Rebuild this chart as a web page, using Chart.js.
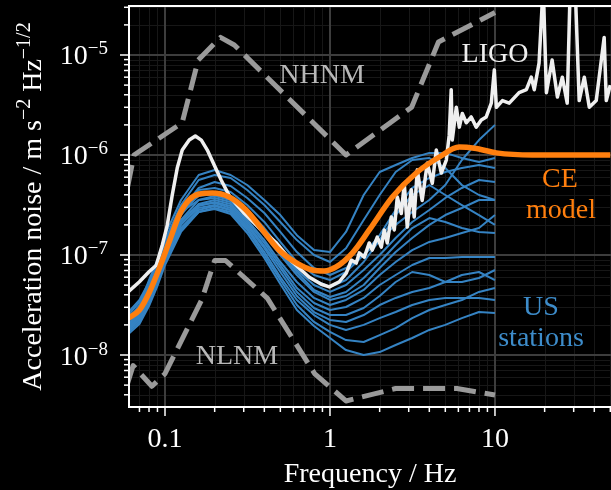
<!DOCTYPE html>
<html>
<head>
<meta charset="utf-8">
<script src="https://cdn.jsdelivr.net/npm/chart.js@4.4.1/dist/chart.umd.min.js"></script>
<style>
  html, body { margin: 0; padding: 0; background: #000; }
  #c { display: block; }
</style>
</head>
<body>
<canvas id="c" width="611" height="490"></canvas>
<script>
// ---------- axis ranges ----------
const xMin = 0.0605, xMax = 50.5;
const yMin = 3.02e-9, yMax = 3.09e-5;
const xTickValues = [0.1, 1, 10];
const xTickLabels = ['0.1', '1', '10'];
const yTickValues = [1e-8, 1e-7, 1e-6, 1e-5];
const yTickExponents = ['\u22128', '\u22127', '\u22126', '\u22125'];

// ---------- NHNM / NLNM ----------
const nhnmFreq = [0.05, 0.0649, 0.127, 0.159, 0.217, 0.263, 1.25, 3.125, 4.545, 10];
const nhnmVal  = [1.19e-7, 1.0e-6, 2.1e-6, 8.9e-6, 1.5e-5, 1.26e-5, 1.0e-6, 3.0e-6, 1.35e-5, 2.66e-5];
const nlnmFreq = [0.0457, 0.0641, 0.0833, 0.1, 0.1667, 0.2, 0.2326, 0.4167, 0.806, 1.25, 2.5, 5.88, 10];
const nlnmVal  = [1.33e-9, 7.83e-9, 4.87e-9, 6.5e-9, 3.55e-8, 8.81e-8, 8.81e-8, 3.7e-8, 6.53e-9, 3.47e-9, 4.62e-9, 4.62e-9, 3.98e-9];

// ---------- CE model ----------
const ceFreq = [0.06, 0.07, 0.08, 0.093, 0.107, 0.122, 0.14, 0.161, 0.194, 0.245, 0.31, 0.39, 0.49, 0.625, 0.78, 0.92, 1.09, 1.37, 1.73, 2.39, 3.33, 4.6, 6.07, 7.5, 10.2, 16.8, 50];
const ceVal  = [2.34e-8, 2.82e-8, 4.17e-8, 7.59e-8, 1.41e-7, 2.51e-7, 3.55e-7, 4.07e-7, 4.17e-7, 3.80e-7, 2.82e-7, 1.78e-7, 1.12e-7, 8.32e-8, 7.08e-8, 6.92e-8, 7.59e-8, 1.05e-7, 1.78e-7, 3.80e-7, 6.61e-7, 9.55e-7, 1.20e-6, 1.17e-6, 1.05e-6, 1.0e-6, 1.0e-6];

// ---------- LIGO ----------
const ligoFreq = [0.06, 0.07, 0.08, 0.0885, 0.0963, 0.1033, 0.1107, 0.1186, 0.1272, 0.1402, 0.1527, 0.166, 0.1805, 0.199, 0.2193, 0.2454, 0.3027, 0.3731, 0.4731, 0.5916, 0.749, 0.886, 0.99, 1.139, 1.255, 1.346, 1.443, 1.505, 1.614, 1.730, 1.803, 1.934, 2.046, 2.133, 2.223, 2.353, 2.453, 2.558, 2.705, 2.82, 2.94, 3.11, 3.24, 3.38, 3.62, 3.89, 4.17, 4.41, 4.73, 5.07, 5.28, 5.43, 5.51, 5.83, 6.08, 6.34, 6.70, 7.18, 7.70, 8.26, 8.85, 9.50, 9.91, 10.2, 11.1, 12.2, 14.0, 15.5, 16.6, 17.3, 18.5, 19.6, 20.5, 22.2, 23.9, 25.6, 27.4, 28.6, 30.6, 32.4, 34.8, 37.3, 41.1, 45.9, 47.3, 50];
const ligoVal  = [4.3e-8, 5.4e-8, 6.8e-8, 7.9e-8, 1.26e-7, 2.0e-7, 4.0e-7, 7.4e-7, 1.12e-6, 1.41e-6, 1.55e-6, 1.41e-6, 1.12e-6, 7.9e-7, 5.6e-7, 3.9e-7, 2.6e-7, 1.86e-7, 1.32e-7, 8.5e-8, 6.0e-8, 5.1e-8, 4.8e-8, 5.4e-8, 6.6e-8, 8.9e-8, 8.3e-8, 1.05e-7, 9.5e-8, 1.32e-7, 1.12e-7, 1.51e-7, 1.2e-7, 1.78e-7, 1.32e-7, 2.4e-7, 1.78e-7, 3.8e-7, 2.6e-7, 5.2e-7, 1.9e-7, 4.5e-7, 2.4e-7, 7.1e-7, 3.5e-7, 8.3e-7, 5.2e-7, 1.12e-6, 6.6e-7, 8.9e-7, 1.58e-6, 4.5e-6, 1.41e-6, 3.0e-6, 1.9e-6, 2.6e-6, 2.1e-6, 2.4e-6, 1.9e-6, 2.24e-6, 2.4e-6, 3.3e-6, 7.1e-6, 3.0e-6, 3.5e-6, 3.3e-6, 4.2e-6, 4.5e-6, 6.0e-6, 4.5e-6, 8.3e-6, 5e-5, 4.2e-6, 8.9e-6, 3.8e-6, 6.0e-6, 3.3e-6, 5e-5, 5e-5, 3.5e-6, 6.0e-6, 3.0e-6, 3.5e-6, 1.5e-5, 3.5e-6, 5.0e-6];

// ---------- US stations (common frequency grid) ----------
const stFreq = [0.06, 0.07, 0.08, 0.09, 0.1, 0.125, 0.16, 0.2, 0.25, 0.315, 0.4, 0.5, 0.63, 0.8, 1.0, 1.25, 1.6, 2.0, 2.5, 3.15, 4.0, 5.0, 6.3, 8.0, 10];
const st01 = [2.24e-8,3.16e-8,5.62e-8,8.91e-8,1.58e-7,3.55e-7,6.31e-7,7.08e-7,6.31e-7,5.01e-7,3.55e-7,2.51e-7,1.58e-7,1.12e-7,1.07e-7,1.70e-7,3.98e-7,6.76e-7,7.94e-7,9.33e-7,1.05e-6,1.05e-6,9.33e-7,8.51e-7,9.33e-7];
const st02 = [2.14e-8,2.95e-8,5.01e-8,8.51e-8,1.41e-7,3.16e-7,5.62e-7,6.31e-7,5.89e-7,4.47e-7,3.16e-7,2.14e-7,1.41e-7,1.0e-7,8.51e-8,1.17e-7,2.24e-7,3.98e-7,6.76e-7,8.91e-7,9.33e-7,7.41e-7,5.01e-7,3.98e-7,3.55e-7];
const st03 = [2.0e-8,2.69e-8,4.27e-8,7.08e-8,1.17e-7,2.82e-7,4.68e-7,5.37e-7,4.90e-7,3.72e-7,2.63e-7,1.70e-7,1.07e-7,7.41e-8,6.31e-8,7.41e-8,1.0e-7,1.41e-7,2.0e-7,2.69e-7,3.55e-7,5.01e-7,8.91e-7,1.41e-6,2.0e-6];
const st04 = [2.51e-8,3.39e-8,5.01e-8,8.51e-8,1.41e-7,2.95e-7,4.47e-7,4.68e-7,4.27e-7,3.16e-7,2.14e-7,1.35e-7,8.51e-8,6.31e-8,5.62e-8,6.76e-8,1.0e-7,1.58e-7,2.82e-7,4.68e-7,5.89e-7,6.76e-7,7.41e-7,7.94e-7,7.41e-7];
const st05 = [1.86e-8,2.45e-8,3.89e-8,6.46e-8,1.07e-7,2.51e-7,4.07e-7,4.27e-7,3.89e-7,2.82e-7,1.86e-7,1.17e-7,7.41e-8,5.62e-8,4.79e-8,5.62e-8,8.51e-8,1.41e-7,2.51e-7,3.98e-7,5.01e-7,3.98e-7,3.16e-7,2.51e-7,2.0e-7];
const st06 = [2.24e-8,2.95e-8,4.47e-8,7.41e-8,1.23e-7,2.69e-7,3.89e-7,4.07e-7,3.72e-7,2.69e-7,1.78e-7,1.12e-7,7.08e-8,5.01e-8,4.27e-8,5.01e-8,7.08e-8,1.0e-7,1.48e-7,2.14e-7,2.82e-7,3.72e-7,4.68e-7,5.62e-7,5.37e-7];
const st07 = [1.78e-8,2.24e-8,3.55e-8,5.89e-8,9.77e-8,2.24e-7,3.55e-7,3.89e-7,3.55e-7,2.51e-7,1.66e-7,1.05e-7,6.76e-8,4.47e-8,3.80e-8,4.27e-8,5.89e-8,8.51e-8,1.26e-7,1.86e-7,2.34e-7,2.14e-7,1.86e-7,1.70e-7,1.66e-7];
const st08 = [2.69e-8,3.55e-8,5.37e-8,8.51e-8,1.35e-7,2.69e-7,3.55e-7,3.72e-7,3.39e-7,2.45e-7,1.58e-7,1.0e-7,6.31e-8,4.27e-8,3.55e-8,3.89e-8,5.01e-8,7.41e-8,1.07e-7,1.48e-7,2.0e-7,2.51e-7,2.95e-7,3.55e-7,3.55e-7];
const st09 = [1.95e-8,2.57e-8,3.89e-8,6.17e-8,1.0e-7,2.14e-7,3.24e-7,3.55e-7,3.24e-7,2.24e-7,1.41e-7,8.51e-8,5.37e-8,3.72e-8,3.16e-8,3.55e-8,4.47e-8,6.31e-8,8.51e-8,1.12e-7,1.35e-7,1.48e-7,1.66e-7,1.86e-7,2.51e-7];
const st10 = [1.70e-8,2.14e-8,3.24e-8,5.37e-8,8.91e-8,2.0e-7,3.09e-7,3.39e-7,3.09e-7,2.14e-7,1.32e-7,7.94e-8,4.68e-8,3.31e-8,2.82e-8,3.02e-8,3.72e-8,5.01e-8,6.31e-8,7.94e-8,9.33e-8,9.33e-8,9.55e-8,9.55e-8,9.55e-8];
const st11 = [2.34e-8,3.09e-8,4.47e-8,7.08e-8,1.12e-7,2.24e-7,3.16e-7,3.31e-7,2.95e-7,2.04e-7,1.23e-7,7.41e-8,4.27e-8,2.95e-8,2.51e-8,2.51e-8,2.95e-8,3.89e-8,5.37e-8,6.76e-8,6.31e-8,5.37e-8,5.37e-8,5.89e-8,7.08e-8];
const st12 = [1.78e-8,2.34e-8,3.55e-8,5.62e-8,8.91e-8,1.86e-7,2.82e-7,3.09e-7,2.82e-7,1.95e-7,1.17e-7,6.76e-8,3.89e-8,2.69e-8,2.24e-8,2.14e-8,2.51e-8,3.16e-8,3.72e-8,4.27e-8,4.68e-8,5.37e-8,6.31e-8,6.76e-8,5.62e-8];
const st13 = [2.04e-8,2.69e-8,3.89e-8,6.17e-8,9.77e-8,2.04e-7,2.95e-7,3.16e-7,2.82e-7,1.86e-7,1.07e-7,6.03e-8,3.55e-8,2.51e-8,2.0e-8,1.78e-8,2.0e-8,2.34e-8,2.69e-8,3.16e-8,3.55e-8,3.72e-8,3.72e-8,3.72e-8,3.55e-8];
const st14 = [1.62e-8,2.04e-8,3.09e-8,4.90e-8,7.94e-8,1.70e-7,2.69e-7,2.95e-7,2.69e-7,1.78e-7,1.0e-7,5.62e-8,3.16e-8,2.14e-8,1.70e-8,1.41e-8,1.35e-8,1.58e-8,1.86e-8,2.34e-8,2.82e-8,3.16e-8,3.55e-8,4.27e-8,4.68e-8];
const st15 = [1.86e-8,2.45e-8,3.55e-8,5.62e-8,8.71e-8,1.78e-7,2.69e-7,2.88e-7,2.57e-7,1.66e-7,9.33e-8,5.13e-8,2.82e-8,1.95e-8,1.48e-8,1.12e-8,1.0e-8,1.07e-8,1.26e-8,1.48e-8,1.78e-8,2.0e-8,2.34e-8,2.69e-8,2.63e-8];
const stations = [st01, st02, st03, st04, st05, st06, st07, st08, st09, st10, st11, st12, st13, st14, st15];

// ---------- styles ----------
const FONT = '"Liberation Serif", "Times New Roman", serif';
const COL_CE = '#ff7f0e';
const COL_ST = '#3583c3';
const COL_ST_TEXT = '#3d8cca';
const COL_LIGO = '#efefef';
const COL_NM = '#9a9a9a';
const COL_NM_TEXT = '#b8b8b8';

function pairs(xs, ys) { return xs.map((x, i) => ({ x: x, y: ys[i] })); }

const datasets = [];
datasets.push({ data: pairs(ceFreq, ceVal), borderColor: COL_CE, borderWidth: 5.5, cubicInterpolationMode: 'monotone', order: 0 });
datasets.push({ data: pairs(ligoFreq, ligoVal), borderColor: COL_LIGO, borderWidth: 3.5, tension: 0, borderJoinStyle: 'round', order: 1 });
stations.forEach(s => datasets.push({ data: pairs(stFreq, s), borderColor: COL_ST, borderWidth: 2, tension: 0, borderJoinStyle: 'round', order: 2 }));
datasets.push({ data: pairs(nhnmFreq, nhnmVal), borderColor: COL_NM, borderWidth: 5, borderDash: [22, 9], tension: 0, borderJoinStyle: 'round', order: 3 });
datasets.push({ data: pairs(nlnmFreq, nlnmVal), borderColor: COL_NM, borderWidth: 5, borderDash: [22, 9], tension: 0, borderJoinStyle: 'round', order: 3 });

const decoPlugin = {
  id: 'deco',
  beforeDraw(chart) {
    const ctx = chart.ctx;
    ctx.save();
    ctx.fillStyle = '#000';
    ctx.fillRect(0, 0, chart.width, chart.height);
    ctx.restore();
  },
  beforeDatasetsDraw(chart) {
    const ctx = chart.ctx, a = chart.chartArea;
    const xs = chart.scales.x, ys = chart.scales.y;
    ctx.save();
    for (let pass = 0; pass < 2; pass++) {
      for (let e = -3; e <= 2; e++) {
        for (let m = 1; m <= 9; m++) {
          const major = (m === 1);
          if ((pass === 0) === major) continue;
          const v = m * Math.pow(10, e);
          if (v <= xMin || v >= xMax) continue;
          const px = Math.round(xs.getPixelForValue(v)) + (major ? 0 : 0.5);
          ctx.strokeStyle = major ? '#3d3d3d' : '#171717';
          ctx.lineWidth = major ? 2 : 1;
          ctx.beginPath(); ctx.moveTo(px, a.top); ctx.lineTo(px, a.bottom); ctx.stroke();
        }
      }
      for (let e = -10; e <= -4; e++) {
        for (let m = 1; m <= 9; m++) {
          const major = (m === 1);
          if ((pass === 0) === major) continue;
          const v = m * Math.pow(10, e);
          if (v <= yMin || v >= yMax) continue;
          const py = Math.round(ys.getPixelForValue(v)) + (major ? 0 : 0.5);
          ctx.strokeStyle = major ? '#3d3d3d' : '#171717';
          ctx.lineWidth = major ? 2 : 1;
          ctx.beginPath(); ctx.moveTo(a.left, py); ctx.lineTo(a.right, py); ctx.stroke();
        }
      }
    }
    ctx.restore();
  },
  afterDatasetsDraw(chart) {
    const ctx = chart.ctx, a = chart.chartArea;
    const xs = chart.scales.x, ys = chart.scales.y;
    ctx.save();
    // annotations
    ctx.textAlign = 'center';
    ctx.textBaseline = 'alphabetic';
    ctx.font = '28px ' + FONT;
    ctx.fillStyle = COL_NM_TEXT;
    ctx.fillText('NHNM', 322, 83);
    ctx.fillText('NLNM', 237, 364);
    ctx.fillStyle = COL_LIGO;
    ctx.fillText('LIGO', 495, 62);
    ctx.fillStyle = COL_CE;
    ctx.fillText('CE', 560, 187);
    ctx.fillText('model', 561, 218);
    ctx.fillStyle = COL_ST_TEXT;
    ctx.fillText('US', 541, 315);
    ctx.fillText('stations', 541, 346);

    // axes frame
    ctx.strokeStyle = '#ffffff';
    ctx.lineWidth = 2;
    ctx.beginPath();
    ctx.moveTo(a.left, a.top); ctx.lineTo(a.right, a.top);
    ctx.moveTo(a.left, a.top - 1); ctx.lineTo(a.left, a.bottom + 1);
    ctx.moveTo(a.left - 1, a.bottom); ctx.lineTo(a.right, a.bottom);
    ctx.stroke();

    // tick marks
    ctx.lineWidth = 1.5;
    for (let e = -3; e <= 2; e++) {
      for (let m = 1; m <= 9; m++) {
        const v = m * Math.pow(10, e);
        if (v < xMin || v > xMax) continue;
        const px = xs.getPixelForValue(v);
        const len = m === 1 ? 9 : 5;
        ctx.beginPath(); ctx.moveTo(px, a.bottom); ctx.lineTo(px, a.bottom + len); ctx.stroke();
      }
    }
    for (let e = -10; e <= -4; e++) {
      for (let m = 1; m <= 9; m++) {
        const v = m * Math.pow(10, e);
        if (v < yMin || v > yMax) continue;
        const py = ys.getPixelForValue(v);
        const len = m === 1 ? 9 : 5;
        ctx.beginPath(); ctx.moveTo(a.left, py); ctx.lineTo(a.left - len, py); ctx.stroke();
      }
    }

    // x tick labels
    ctx.fillStyle = '#ffffff';
    ctx.font = '28px ' + FONT;
    ctx.textAlign = 'center';
    xTickValues.forEach((v, i) => {
      ctx.fillText(xTickLabels[i], xs.getPixelForValue(v), 447);
    });
    // y tick labels with superscripts
    yTickValues.forEach((v, i) => {
      const py = ys.getPixelForValue(v);
      ctx.font = '19px ' + FONT;
      ctx.textAlign = 'right';
      const sw = ctx.measureText(yTickExponents[i]).width;
      ctx.fillText(yTickExponents[i], 108, py - 0.5);
      ctx.font = '28px ' + FONT;
      ctx.fillText('10', 108 - sw, py + 9.5);
    });

    // x title
    ctx.font = '28px ' + FONT;
    ctx.textAlign = 'center';
    ctx.fillText('Frequency / Hz', (a.left + a.right) / 2, 482);

    // y title (rotated, with superscripts)
    const parts = [
      { t: 'Acceleration noise / m s', sup: false },
      { t: '\u22122', sup: true },
      { t: ' Hz', sup: false },
      { t: '\u22121/2', sup: true }
    ];
    let total = 0;
    parts.forEach(p => { ctx.font = (p.sup ? '20px ' : '28px ') + FONT; p.w = ctx.measureText(p.t).width; total += p.w; });
    ctx.translate(41, (a.top + a.bottom) / 2);
    ctx.rotate(-Math.PI / 2);
    ctx.textAlign = 'left';
    let cx = -total / 2;
    parts.forEach(p => {
      ctx.font = (p.sup ? '20px ' : '28px ') + FONT;
      ctx.fillText(p.t, cx, p.sup ? -11 : 0);
      cx += p.w;
    });
    ctx.restore();
  }
};

new Chart(document.getElementById('c'), {
  type: 'line',
  data: { datasets: datasets },
  options: {
    responsive: false,
    animation: false,
    devicePixelRatio: 1,
    layout: { padding: { left: 129, top: 6, right: 0, bottom: 83 } },
    elements: { point: { radius: 0, hoverRadius: 0 }, line: { fill: false } },
    scales: {
      x: { type: 'logarithmic', min: xMin, max: xMax, display: false },
      y: { type: 'logarithmic', min: yMin, max: yMax, display: false }
    },
    plugins: { legend: { display: false }, tooltip: { enabled: false } },
    events: []
  },
  plugins: [decoPlugin]
});
</script>
</body>
</html>
